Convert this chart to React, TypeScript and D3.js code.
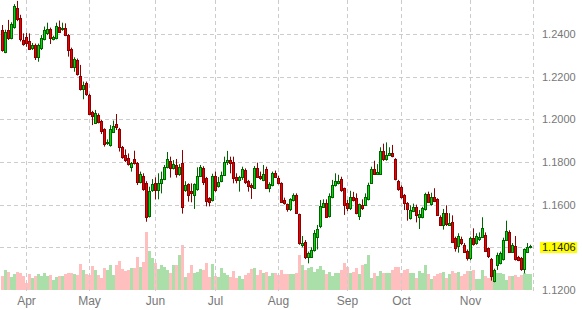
import React from "react";
import * as d3 from "d3";

// ---- data ----
const open = [1.2419,1.2317,1.2419,1.2380,1.2431,1.2520,1.2474,1.2372,1.2385,1.2367,1.2333,1.2349,1.2294,1.2333,1.2375,1.2403,1.2422,1.2375,1.2380,1.2431,1.2422,1.2427,1.2395,1.2328,1.2247,1.2278,1.2203,1.2141,1.2169,1.2114,1.2034,1.1984,1.2020,1.1992,1.1953,1.1887,1.1880,1.1942,1.1978,1.1953,1.1869,1.1833,1.1817,1.1778,1.1813,1.1797,1.1708,1.1734,1.1700,1.1547,1.1669,1.1700,1.1669,1.1700,1.1719,1.1775,1.1805,1.1770,1.1786,1.1744,1.1794,1.1669,1.1695,1.1666,1.1644,1.1672,1.1734,1.1770,1.1723,1.1630,1.1622,1.1734,1.1687,1.1711,1.1739,1.1802,1.1809,1.1802,1.1731,1.1716,1.1728,1.1762,1.1712,1.1692,1.1680,1.1770,1.1734,1.1716,1.1766,1.1677,1.1692,1.1747,1.1727,1.1700,1.1622,1.1603,1.1578,1.1622,1.1645,1.1556,1.1411,1.1427,1.1356,1.1356,1.1388,1.1450,1.1500,1.1591,1.1609,1.1547,1.1636,1.1692,1.1703,1.1719,1.1677,1.1609,1.1583,1.1634,1.1630,1.1547,1.1600,1.1600,1.1628,1.1703,1.1766,1.1744,1.1744,1.1853,1.1812,1.1833,1.1844,1.1812,1.1712,1.1681,1.1645,1.1609,1.1536,1.1570,1.1589,1.1544,1.1544,1.1578,1.1650,1.1603,1.1634,1.1625,1.1544,1.1505,1.1562,1.1505,1.1520,1.1442,1.1406,1.1437,1.1411,1.1383,1.1348,1.1442,1.1419,1.1437,1.1450,1.1458,1.1395,1.1344,1.1241,1.1317,1.1325,1.1344,1.1434,1.1473,1.1380,1.1406,1.1353,1.1348,1.1297,1.1380,1.1400];
const high = [1.2442,1.2420,1.2466,1.2455,1.2540,1.2555,1.2490,1.2403,1.2406,1.2403,1.2358,1.2355,1.2355,1.2395,1.2435,1.2453,1.2430,1.2392,1.2453,1.2463,1.2453,1.2450,1.2400,1.2336,1.2291,1.2285,1.2255,1.2177,1.2177,1.2120,1.2040,1.2044,1.2028,1.1997,1.1958,1.1906,1.1973,1.1994,1.2025,1.1960,1.1875,1.1859,1.1840,1.1800,1.1853,1.1800,1.1755,1.1747,1.1710,1.1684,1.1720,1.1728,1.1747,1.1755,1.1786,1.1847,1.1825,1.1809,1.1814,1.1790,1.1856,1.1710,1.1700,1.1700,1.1700,1.1775,1.1786,1.1780,1.1730,1.1635,1.1745,1.1755,1.1730,1.1755,1.1825,1.1852,1.1825,1.1825,1.1747,1.1735,1.1778,1.1770,1.1716,1.1700,1.1781,1.1797,1.1755,1.1786,1.1778,1.1705,1.1755,1.1760,1.1735,1.1705,1.1633,1.1605,1.1630,1.1653,1.1653,1.1558,1.1453,1.1434,1.1380,1.1400,1.1481,1.1505,1.1622,1.1625,1.1625,1.1653,1.1716,1.1747,1.1740,1.1731,1.1680,1.1622,1.1665,1.1660,1.1653,1.1605,1.1625,1.1653,1.1703,1.1778,1.1806,1.1790,1.1869,1.1886,1.1892,1.1869,1.1880,1.1818,1.1716,1.1690,1.1650,1.1612,1.1597,1.1605,1.1600,1.1575,1.1590,1.1656,1.1661,1.1656,1.1677,1.1630,1.1550,1.1580,1.1597,1.1560,1.1550,1.1450,1.1466,1.1450,1.1420,1.1390,1.1450,1.1489,1.1466,1.1470,1.1541,1.1470,1.1400,1.1350,1.1300,1.1375,1.1380,1.1445,1.1525,1.1480,1.1420,1.1453,1.1360,1.1355,1.1395,1.1420,1.1412];
const low = [1.2317,1.2310,1.2372,1.2375,1.2425,1.2460,1.2365,1.2345,1.2340,1.2325,1.2325,1.2278,1.2270,1.2325,1.2370,1.2395,1.2353,1.2370,1.2375,1.2405,1.2415,1.2390,1.2294,1.2240,1.2223,1.2205,1.2135,1.2094,1.2110,1.2020,1.1973,1.1980,1.1981,1.1931,1.1872,1.1880,1.1872,1.1936,1.1950,1.1849,1.1815,1.1800,1.1783,1.1755,1.1788,1.1692,1.1700,1.1665,1.1520,1.1540,1.1660,1.1625,1.1625,1.1653,1.1715,1.1770,1.1727,1.1765,1.1727,1.1735,1.1558,1.1660,1.1614,1.1611,1.1580,1.1665,1.1730,1.1692,1.1592,1.1592,1.1615,1.1660,1.1680,1.1705,1.1735,1.1786,1.1747,1.1700,1.1700,1.1661,1.1716,1.1697,1.1661,1.1627,1.1675,1.1725,1.1716,1.1710,1.1675,1.1658,1.1686,1.1725,1.1695,1.1608,1.1600,1.1567,1.1570,1.1615,1.1558,1.1412,1.1400,1.1345,1.1325,1.1350,1.1380,1.1390,1.1490,1.1585,1.1540,1.1540,1.1630,1.1685,1.1695,1.1660,1.1552,1.1570,1.1575,1.1615,1.1555,1.1528,1.1575,1.1595,1.1620,1.1697,1.1740,1.1740,1.1740,1.1805,1.1806,1.1828,1.1822,1.1714,1.1665,1.1628,1.1575,1.1525,1.1530,1.1565,1.1517,1.1486,1.1536,1.1572,1.1608,1.1595,1.1612,1.1548,1.1500,1.1483,1.1500,1.1500,1.1420,1.1380,1.1375,1.1410,1.1375,1.1338,1.1340,1.1408,1.1412,1.1430,1.1445,1.1378,1.1350,1.1244,1.1236,1.1294,1.1320,1.1338,1.1430,1.1375,1.1375,1.1338,1.1335,1.1290,1.1278,1.1375,1.1395];
const close = [1.2325,1.2411,1.2380,1.2447,1.2531,1.2469,1.2375,1.2352,1.2357,1.2328,1.2349,1.2294,1.2349,1.2383,1.2419,1.2422,1.2380,1.2385,1.2438,1.2411,1.2427,1.2395,1.2325,1.2244,1.2281,1.2213,1.2141,1.2161,1.2117,1.2025,1.2016,1.2028,1.1989,1.1947,1.1884,1.1895,1.1953,1.1969,1.1963,1.1869,1.1822,1.1809,1.1791,1.1794,1.1794,1.1708,1.1742,1.1672,1.1541,1.1664,1.1695,1.1669,1.1703,1.1719,1.1775,1.1813,1.1770,1.1789,1.1744,1.1775,1.1588,1.1692,1.1645,1.1653,1.1695,1.1734,1.1775,1.1708,1.1619,1.1614,1.1734,1.1669,1.1708,1.1739,1.1802,1.1809,1.1794,1.1723,1.1717,1.1731,1.1766,1.1708,1.1687,1.1684,1.1770,1.1731,1.1723,1.1744,1.1680,1.1697,1.1747,1.1731,1.1700,1.1614,1.1606,1.1578,1.1625,1.1645,1.1563,1.1419,1.1422,1.1356,1.1372,1.1388,1.1466,1.1484,1.1594,1.1606,1.1544,1.1641,1.1692,1.1711,1.1712,1.1669,1.1600,1.1583,1.1634,1.1622,1.1563,1.1602,1.1583,1.1634,1.1692,1.1766,1.1744,1.1755,1.1853,1.1812,1.1833,1.1844,1.1828,1.1719,1.1672,1.1634,1.1609,1.1578,1.1575,1.1591,1.1550,1.1556,1.1583,1.1650,1.1614,1.1637,1.1619,1.1552,1.1505,1.1559,1.1509,1.1516,1.1427,1.1395,1.1453,1.1419,1.1380,1.1348,1.1442,1.1416,1.1453,1.1450,1.1489,1.1384,1.1359,1.1266,1.1294,1.1364,1.1375,1.1434,1.1478,1.1380,1.1411,1.1344,1.1341,1.1297,1.1391,1.1402,1.1406];
const volume = [14,20,18,13,16,18,17,14,7,16,12,14,16,14,17,14,15,10,13,14,14,16,17,17,16,15,26,20,16,15,24,20,15,12,22,20,25,15,25,29,21,19,20,22,22,33,23,28,58,39,32,27,21,25,23,20,17,25,25,35,45,13,17,25,17,18,21,20,27,13,26,14,13,22,17,15,13,19,12,14,11,15,17,21,22,15,20,17,18,14,17,17,15,20,16,16,16,16,17,35,25,20,22,23,18,21,24,20,16,18,14,17,17,20,27,23,17,18,22,16,25,26,35,12,17,14,19,17,17,17,20,23,23,17,20,21,17,17,12,19,17,25,16,11,14,16,17,18,12,16,19,17,18,14,16,19,19,20,11,11,20,14,12,16,10,17,17,16,10,14,14,15,13,15,17,16,16].map(v => v * 1000);

const monthLabels = ["Apr", "May", "Jun", "Jul", "Aug", "Sep", "Oct", "Nov", ""];
const monthIndex = [8, 29, 51, 71, 92, 115, 133, 156, 177];
const gridPrices = [1.14, 1.16, 1.18, 1.20, 1.22, 1.24];
const tickPrices = [1.12, 1.16, 1.18, 1.20, 1.22, 1.24];

const W = 582, H = 310;
const FONT = "'Liberation Sans', Arial, Helvetica, sans-serif";

export default function App() {
  const N = close.length;
  const x = d3.scaleLinear().domain([0, N - 1]).range([2.5, 2.5 + 3 * (N - 1)]);
  const y = d3.scaleLinear().domain([1.12, 1.24]).range([290, 34]);
  const vy = d3.scaleLinear().domain([0, 60000]).range([290, 230]);
  const plotRight = Math.round(x(177)) - 0.5;
  const last = close[N - 1];
  const lastY = y(last) + 1.5;

  return (
    <svg width={W} height={H} style={{ position: "absolute", left: 0, top: 0, background: "#fff" }}>
      {/* volume */}
      <g>
        {volume.map((v, i) => {
          const up = close[i] >= open[i];
          return (
            <rect key={i} x={x(i) - 1.5} y={vy(v)} width={3} height={290 - vy(v)}
              fill={up ? "#aadfaa" : "#ffbfbf"} />
          );
        })}
      </g>
      {/* grid */}
      <g stroke="#cccccc" strokeWidth={1} strokeDasharray="4,3" fill="none">
        {gridPrices.map((p) => {
          const yy = Math.round(y(p)) + 0.5;
          return <line key={p} x1={0} x2={plotRight} y1={yy} y2={yy} />;
        })}
        {monthIndex.map((m) => {
          const xx = Math.floor(x(m)) + 0.5;
          return <line key={m} x1={xx} x2={xx} y1={0} y2={291} />;
        })}
      </g>
      {/* candles */}
      <g>
        {close.map((c, i) => {
          const o = open[i];
          const up = c >= o;
          const dark = up ? "#006400" : "#8b0000";
          const fill = up ? "#00dd00" : "#ee0000";
          const top = Math.round(y(Math.max(o, c))) + 0.5;
          const bot = Math.round(y(Math.min(o, c))) + 0.5;
          const cx = Math.floor(x(i)) + 0.5;
          return (
            <g key={i}>
              <line x1={cx} x2={cx} y1={y(high[i])} y2={y(low[i])} stroke={dark} strokeWidth={1} />
              <rect x={cx - 1} y={top} width={2} height={Math.max(bot - top, 1)} fill={fill} stroke={dark} strokeWidth={1} />
            </g>
          );
        })}
      </g>
      {/* month labels */}
      <g fontFamily={FONT} fontSize={12} fill="#777" textAnchor="middle">
        {monthIndex.map((m, k) => monthLabels[k] ? (
          <text key={m} x={x(m)} y={305}>{monthLabels[k]}</text>
        ) : null)}
      </g>
      {/* price labels */}
      <g fontFamily={FONT} fontSize={11} fill="#777">
        {tickPrices.map((p) => (
          <text key={p} x={542} y={y(p)} dy="0.35em">{p.toFixed(4)}</text>
        ))}
      </g>
      <rect x={540} y={lastY - 5.5} width={37} height={11} fill="#ffff00" />
      <text x={542} y={lastY} dy="0.35em" fontFamily={FONT} fontSize={11} fill="#222">{last.toFixed(4)}</text>
    </svg>
  );
}
